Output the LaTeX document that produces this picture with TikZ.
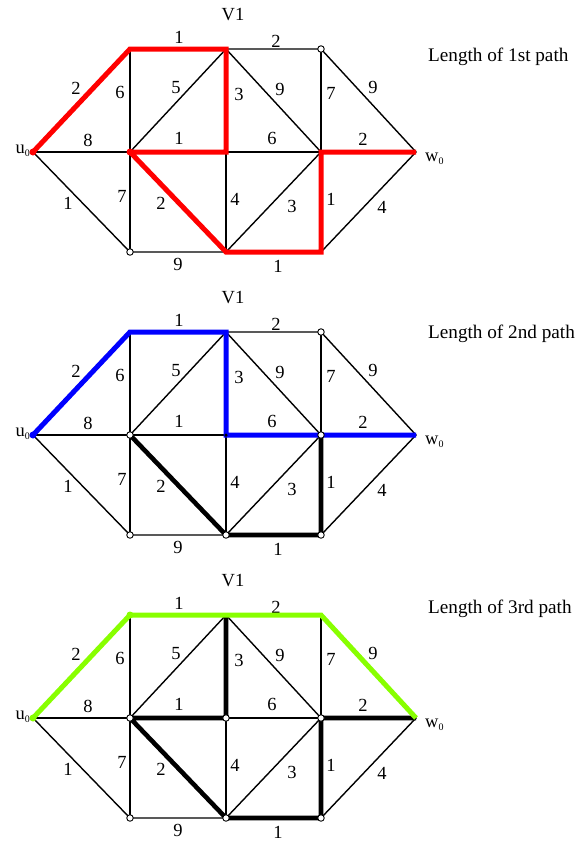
\documentclass[tikz,border=0pt]{standalone}
\usepackage{fontspec}
\setmainfont{Liberation Serif}
\definecolor{pathred}{RGB}{255,0,0}
\definecolor{pathblue}{RGB}{0,0,255}
\definecolor{pathgreen}{RGB}{136,255,0}
\tikzset{
 edge/.style={line width=1.4pt, draw=black},
 lbl/.style={font=\fontsize{18.5}{20}\selectfont, inner sep=0pt},
 route/.style={line width=5pt, line join=miter, miter limit=2},
 hollow/.style={circle, draw=black, fill=white, line width=0.9pt, minimum size=6.5pt, inner sep=0pt},
 dotmark/.style={circle, fill=#1, minimum size=7pt, inner sep=0pt},
}
\newcommand\pzero{\raisebox{-3pt}{\fontsize{10}{10}\selectfont 0}}
\newcommand\panelgraph[4]{%
\begin{scope}[shift={(0,#2)}]
 \coordinate (#1u) at (33,152);
 \coordinate (#1A) at (130,49);
 \coordinate (#1V) at (226,49);
 \coordinate (#1C) at (321,49);
 \coordinate (#1M) at (130,152);
 \coordinate (#1N) at (226,152);
 \coordinate (#1P) at (321,152);
 \coordinate (#1W) at (416,152);
 \coordinate (#1L) at (130,252);
 \coordinate (#1B) at (226,252);
 \coordinate (#1R) at (321,252);
 \draw[edge] (#1u) -- (#1A) -- (#1V) -- (#1C) -- (#1W) -- (#1R) -- (#1B) -- (#1L) -- cycle;
 \draw[edge] (#1u) -- (#1M) -- (#1N) -- (#1P) -- (#1W);
 \draw[edge] (#1A) -- (#1M) -- (#1L);
 \draw[edge] (#1V) -- (#1N) -- (#1B);
 \draw[edge] (#1C) -- (#1P) -- (#1R);
 \draw[edge] (#1M) -- (#1V) -- (#1P) -- (#1B) -- (#1M);
 \node[lbl] (#1tv) at (233,15) {V1};
 \node[lbl, anchor=west, font=\fontsize{19.2}{21}\selectfont] (#1tt) at (428,#4) {#3};
 \node[lbl, anchor=base east] (#1tu) at (30,153) {u\pzero};
 \node[lbl, anchor=base west] (#1tw) at (425,161) {w\pzero};
 \node[lbl] (#1e1) at (179,37) {1};
 \node[lbl] (#1e2) at (276,41) {2};
 \node[lbl] (#1e3) at (76,88) {2};
 \node[lbl] (#1e4) at (120,92) {6};
 \node[lbl] (#1e5) at (176,88) {5};
 \node[lbl] (#1e6) at (239,94) {3};
 \node[lbl] (#1e7) at (280,89) {9};
 \node[lbl] (#1e8) at (331,93) {7};
 \node[lbl] (#1e9) at (373,87) {9};
 \node[lbl] (#1e10) at (88,140) {8};
 \node[lbl] (#1e11) at (179,138) {1};
 \node[lbl] (#1e12) at (272,138) {6};
 \node[lbl] (#1e13) at (363,139) {2};
 \node[lbl] (#1e14) at (68,203) {1};
 \node[lbl] (#1e15) at (122,196) {7};
 \node[lbl] (#1e16) at (161,203) {2};
 \node[lbl] (#1e17) at (235,199) {4};
 \node[lbl] (#1e18) at (292,206) {3};
 \node[lbl] (#1e19) at (331,199) {1};
 \node[lbl] (#1e20) at (382,207) {4};
 \node[lbl] (#1e21) at (178,264) {9};
 \node[lbl] (#1e22) at (278,266) {1};
\end{scope}}
\begin{document}
\begin{tikzpicture}[x=1pt, y=-1pt]
\useasboundingbox (0,0) rectangle (586,841);
% panel 1
\panelgraph{a}{0}{Length of 1st path}{57}
\draw[route, pathred] (au) -- (aA) -- (aV) -- (aN) -- (aM) -- (aB) -- (aR) -- (aP) -- (aW);
\node[dotmark=pathred] (a-du) at (au) {};
\node[dotmark=pathred] (a-dm) at (aM) {};
\node[hollow] (a-hc) at (aC) {};
\node[hollow] (a-hl) at (aL) {};
% panel 2
\panelgraph{b}{283}{Length of 2nd path}{51}
\draw[route, black, line width=4.6pt] (bM) -- (bB) -- (bR) -- (bP);
\draw[route, pathblue] (bu) -- (bA) -- (bV) -- (bN) -- (bP) -- (bW);
\node[dotmark=pathblue] (b-du) at (bu) {};
\node[circle, fill=black, minimum size=3.5pt, inner sep=0pt] (b-dn) at (bN) {};
\node[hollow] (b-hc) at (bC) {};
\node[hollow] (b-hm) at (bM) {};
\node[hollow] (b-hp) at (bP) {};
\node[hollow] (b-hl) at (bL) {};
\node[hollow] (b-hb) at (bB) {};
\node[hollow] (b-hr) at (bR) {};
% panel 3
\panelgraph{c}{566}{Length of 3rd path}{43}
\draw[route, black, line width=4.6pt] (cV) -- (cN) -- (cM) -- (cB) -- (cR) -- (cP) -- (cW);
\draw[route, pathgreen] (cu) -- (cA) -- (cV) -- (cC) -- (cW);
\node[dotmark=pathgreen] (c-du) at (cu) {};
\node[dotmark=pathgreen] (c-da) at (cA) {};
\node[hollow] (c-hm) at (cM) {};
\node[hollow] (c-hn) at (cN) {};
\node[hollow] (c-hp) at (cP) {};
\node[hollow] (c-hl) at (cL) {};
\node[hollow] (c-hb) at (cB) {};
\node[hollow] (c-hr) at (cR) {};
\end{tikzpicture}
\end{document}
